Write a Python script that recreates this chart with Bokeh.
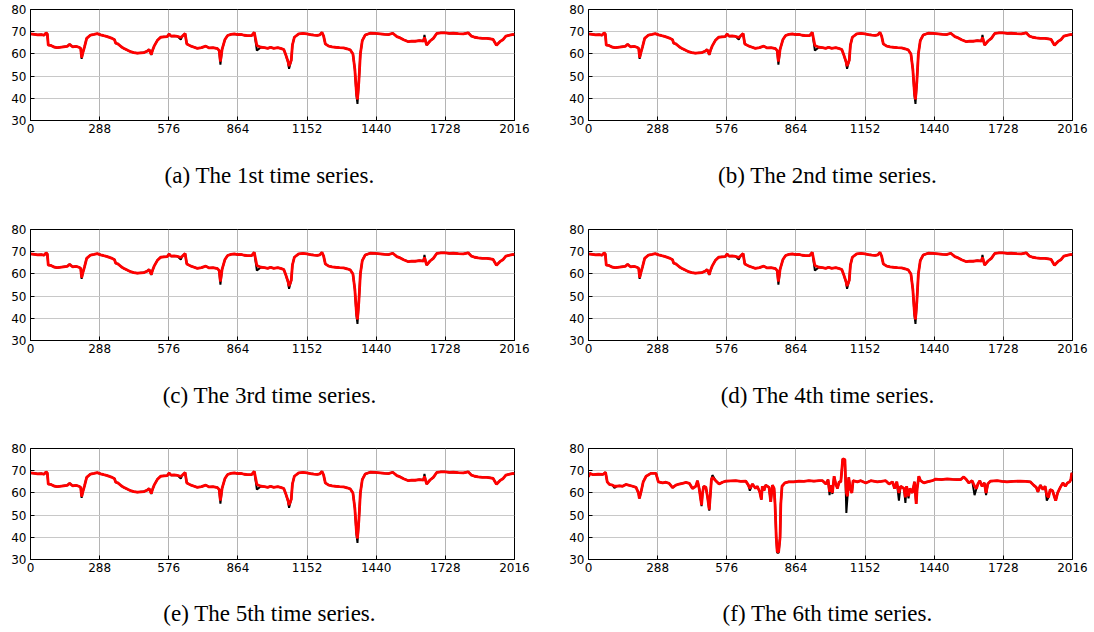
from bokeh.plotting import figure
from bokeh.layouts import column, row
from bokeh.models import Range1d, FixedTicker
from bokeh.embed import file_html
from bokeh.resources import INLINE

# ---------------- data ----------------
x_ticks = [0, 288, 576, 864, 1152, 1440, 1728, 2016]
y_ticks = [30, 40, 50, 60, 70, 80]

captions = [
    "(a)  The 1st time series.",
    "(b)  The 2nd time series.",
    "(c)  The 3rd time series.",
    "(d)  The 4th time series.",
    "(e)  The 5th time series.",
    "(f)  The 6th time series.",
]

# series 1-5 (visually the same traffic pattern)
x_ae = [0, 15, 30, 45, 56, 65, 70, 74, 85, 100, 111, 130, 153, 163, 175, 190, 202, 209, 213, 218,
        225, 234, 250, 265, 278, 292, 305, 320, 340, 350, 355, 364, 378, 390, 405, 417, 430, 445, 460, 473,
        487, 494, 500, 503, 508, 515, 528, 542, 556, 570, 577, 585, 598, 612, 626, 632, 644, 651, 668, 682,
        695, 712, 730, 744, 760, 779, 786, 791, 798, 810, 821, 835, 849, 862, 876, 890, 904, 921, 932, 943,
        960, 975, 988, 1000, 1013, 1030, 1045, 1055, 1062, 1072, 1077, 1086, 1091, 1099, 1117, 1135, 1152, 1166, 1180, 1195,
        1205, 1214, 1221, 1228, 1242, 1256, 1270, 1287, 1304, 1318, 1332, 1343, 1351, 1358, 1362, 1368, 1374, 1382, 1394, 1415,
        1435, 1457, 1475, 1491, 1509, 1526, 1540, 1554, 1574, 1588, 1602, 1620, 1637, 1641, 1646, 1650, 1664, 1678, 1692, 1710,
        1727, 1745, 1761, 1782, 1803, 1823, 1837, 1850, 1865, 1882, 1900, 1915, 1927, 1941, 1955, 1969, 1980, 1997, 2011, 2016]
true_ae = [69.0, 68.8, 68.6, 68.7, 68.4, 69.5, 69.0, 64.0, 63.8, 63.0, 62.8, 63.1, 63.4, 64.3, 63.2, 63.4, 63.0, 62.5, 57.8, 60.5,
           63.2, 67.0, 68.5, 68.8, 69.1, 68.6, 68.2, 67.8, 67.0, 66.4, 64.8, 64.5, 63.2, 62.4, 61.6, 61.0, 60.6, 60.3, 60.5, 60.6,
           61.3, 62.0, 60.5, 59.5, 61.5, 63.5, 66.0, 67.5, 67.7, 67.8, 69.0, 68.0, 68.1, 67.9, 66.5, 67.9, 69.2, 64.5, 63.5, 63.0,
           62.5, 62.8, 63.5, 62.7, 62.8, 62.4, 61.5, 55.2, 62.0, 66.5, 68.3, 68.8, 69.0, 68.7, 68.8, 68.4, 68.2, 68.2, 69.7, 61.5,
           63.0, 62.8, 62.5, 63.0, 62.5, 62.8, 62.4, 62.0, 60.0, 56.5, 53.3, 57.0, 64.0, 67.5, 69.0, 69.2, 69.0, 68.7, 68.5, 68.3,
           68.6, 69.7, 68.0, 64.5, 63.5, 63.2, 63.0, 62.8, 62.7, 62.3, 61.8, 60.0, 53.0, 41.0, 37.5, 48.0, 60.0, 66.0, 68.5, 69.3,
           69.2, 69.0, 68.8, 68.7, 69.3, 67.8, 67.2, 66.4, 65.5, 65.8, 65.7, 66.0, 65.8, 68.5, 65.5, 64.0, 65.8, 67.0, 69.2, 69.5,
           69.5, 69.2, 69.3, 69.1, 69.0, 69.5, 68.0, 67.5, 67.2, 67.0, 67.0, 66.8, 66.5, 63.9, 65.5, 66.5, 68.0, 68.5, 68.8, 68.5]
pred_ae = [69.0, 68.8, 68.6, 68.7, 68.4, 69.5, 69.0, 64.0, 63.8, 63.0, 62.8, 63.1, 63.4, 64.3, 63.2, 63.4, 63.0, 62.5, 58.3, 60.5,
           63.2, 67.0, 68.5, 68.8, 69.1, 68.6, 68.2, 67.8, 67.0, 66.4, 64.8, 64.5, 63.2, 62.4, 61.6, 61.0, 60.6, 60.3, 60.5, 60.6,
           61.3, 62.0, 60.5, 59.7, 61.5, 63.5, 66.0, 67.5, 67.7, 67.8, 69.0, 68.0, 68.1, 67.9, 67.4, 67.9, 69.2, 64.5, 63.5, 63.0,
           62.5, 62.8, 63.5, 62.7, 62.8, 62.4, 61.5, 56.5, 62.0, 66.5, 68.3, 68.8, 69.0, 68.7, 68.8, 68.4, 68.2, 68.2, 69.7, 63.8,
           63.0, 62.8, 62.5, 63.0, 62.5, 62.8, 62.4, 62.0, 60.0, 56.8, 54.5, 57.0, 64.0, 67.5, 69.0, 69.2, 69.0, 68.7, 68.5, 68.3,
           68.6, 69.7, 68.0, 64.5, 63.5, 63.2, 63.0, 62.8, 62.7, 62.3, 61.8, 60.0, 53.0, 42.0, 39.5, 48.0, 60.0, 66.0, 68.5, 69.3,
           69.2, 69.0, 68.8, 68.7, 69.3, 67.8, 67.2, 66.4, 65.5, 65.8, 65.7, 66.0, 65.8, 67.5, 65.5, 64.0, 65.8, 67.0, 69.2, 69.5,
           69.5, 69.2, 69.3, 69.1, 69.0, 69.5, 68.0, 67.5, 67.2, 67.0, 67.0, 66.8, 66.5, 63.9, 65.5, 66.5, 68.0, 68.5, 68.8, 68.5]

# series 6
x_f = [0, 5, 20, 40, 60, 71, 78, 87, 100, 108, 118, 129, 142, 156, 170, 184, 198, 208, 212, 220,
       228, 240, 260, 281, 291, 309, 322, 336, 350, 364, 378, 392, 406, 420, 433, 447, 454, 461, 467, 471,
       475, 480, 489, 496, 503, 508, 512, 516, 530, 544, 558, 572, 592, 613, 634, 655, 666, 672, 683, 696,
       703, 713, 720, 724, 731, 738, 752, 759, 766, 773, 777, 782, 786, 792, 798, 801, 806, 818, 834, 855,
       876, 897, 918, 939, 960, 975, 989, 998, 1004, 1009, 1016, 1023, 1030, 1037, 1044, 1051, 1055, 1059, 1068, 1070,
       1074, 1079, 1084, 1090, 1097, 1102, 1120, 1134, 1155, 1176, 1203, 1220, 1238, 1252, 1266, 1275, 1284, 1293, 1300, 1314,
       1320, 1325, 1333, 1339, 1349, 1358, 1365, 1369, 1376, 1383, 1397, 1411, 1432, 1446, 1470, 1494, 1515, 1536, 1550, 1563,
       1574, 1584, 1598, 1608, 1616, 1622, 1630, 1639, 1649, 1656, 1663, 1674, 1702, 1722, 1743, 1770, 1799, 1820, 1840, 1854,
       1865, 1872, 1882, 1893, 1902, 1909, 1916, 1923, 1933, 1940, 1946, 1954, 1965, 1976, 1986, 1995, 2004, 2009, 2013, 2016]
true_f = [67.2, 68.8, 68.2, 68.4, 68.3, 69.3, 65.0, 63.8, 63.5, 62.2, 63.0, 63.2, 63.0, 63.8, 63.4, 63.0, 62.5, 60.0, 57.5, 61.0,
          65.0, 67.5, 68.8, 68.8, 65.0, 64.5, 64.8, 64.3, 62.4, 63.5, 64.0, 64.3, 64.7, 64.3, 62.0, 63.0, 65.5, 62.0, 57.5, 54.0,
          60.0, 63.0, 62.5, 58.0, 52.0, 60.0, 66.0, 68.0, 65.5, 64.0, 64.8, 65.3, 65.4, 65.5, 65.2, 65.3, 63.5, 61.0, 64.0, 62.0,
          63.0, 60.5, 57.0, 63.0, 61.0, 63.5, 62.5, 56.0, 63.5, 62.0, 55.0, 40.0, 33.0, 33.0, 40.0, 55.0, 63.0, 64.5, 65.0, 65.0,
          65.3, 65.2, 65.5, 65.3, 65.5, 65.5, 64.0, 66.0, 59.0, 63.5, 59.5, 67.5, 64.0, 62.0, 65.0, 65.0, 70.0, 75.3, 75.0, 68.0,
          51.0, 58.5, 67.0, 62.0, 60.0, 65.5, 65.0, 65.5, 64.5, 65.5, 65.0, 65.2, 65.5, 64.0, 65.0, 62.0, 65.0, 56.5, 63.0, 62.0,
          55.5, 63.0, 57.5, 62.0, 60.0, 65.0, 55.0, 62.0, 67.5, 65.5, 64.5, 65.0, 65.5, 66.2, 66.0, 66.3, 66.1, 66.0, 66.0, 67.2,
          66.0, 64.5, 65.5, 59.0, 62.0, 64.0, 65.5, 63.0, 64.5, 59.0, 64.0, 65.3, 65.5, 65.2, 65.0, 65.2, 65.3, 65.2, 65.0, 63.5,
          62.5, 60.5, 63.5, 61.5, 63.0, 56.5, 58.0, 61.5, 61.0, 58.5, 56.5, 60.0, 62.5, 64.5, 63.0, 64.5, 65.0, 66.0, 69.0, 68.0]
pred_f = [67.2, 68.8, 68.2, 68.4, 68.3, 69.3, 65.0, 63.8, 63.5, 63.0, 63.0, 63.2, 63.0, 63.8, 63.4, 63.0, 62.5, 60.0, 57.5, 61.0,
          65.0, 67.5, 68.8, 68.8, 65.0, 64.5, 64.8, 64.3, 62.4, 63.5, 64.0, 64.3, 64.7, 64.3, 62.0, 63.0, 65.5, 62.0, 57.5, 54.5,
          60.0, 63.0, 62.5, 58.0, 52.5, 60.0, 66.0, 67.0, 65.5, 64.0, 64.8, 65.3, 65.4, 65.5, 65.2, 65.3, 63.5, 62.0, 64.0, 62.0,
          63.0, 60.5, 57.0, 63.0, 61.0, 63.5, 62.5, 56.0, 63.5, 62.0, 55.0, 40.0, 33.5, 33.5, 40.0, 55.0, 63.0, 64.5, 65.0, 65.0,
          65.3, 65.2, 65.5, 65.3, 65.5, 65.5, 64.0, 66.0, 60.5, 63.5, 60.0, 67.5, 64.0, 62.0, 65.0, 65.0, 70.0, 75.3, 75.0, 68.0,
          60.0, 58.5, 67.0, 62.0, 60.0, 65.5, 65.0, 65.5, 64.5, 65.5, 65.0, 65.2, 65.5, 64.0, 65.0, 62.0, 65.0, 60.0, 63.0, 62.0,
          58.0, 63.0, 58.5, 62.0, 60.0, 65.0, 55.0, 62.0, 67.5, 65.5, 64.5, 65.0, 65.5, 66.2, 66.0, 66.3, 66.1, 66.0, 66.0, 67.2,
          66.0, 64.5, 65.5, 63.0, 62.0, 64.0, 65.5, 63.0, 64.5, 60.0, 64.0, 65.3, 65.5, 65.2, 65.0, 65.2, 65.3, 65.2, 65.0, 63.5,
          62.5, 60.5, 63.5, 61.5, 63.0, 59.0, 58.0, 61.5, 61.0, 58.5, 56.5, 60.0, 62.5, 64.5, 63.0, 64.5, 65.0, 66.0, 69.0, 68.0]

assert len(x_ae) == len(true_ae) == len(pred_ae)
assert len(x_f) == len(true_f) == len(pred_f)

series = [
    (x_ae, true_ae, pred_ae),
    (x_ae, true_ae, pred_ae),
    (x_ae, true_ae, pred_ae),
    (x_ae, true_ae, pred_ae),
    (x_ae, true_ae, pred_ae),
    (x_f, true_f, pred_f),
]


def make(idx, top, bottom, left, right, standoff):
    xs, yt, yp = series[idx]
    p = figure(frame_width=484, frame_height=111,
               x_range=Range1d(0, 2016), y_range=Range1d(30, 80),
               output_backend="svg", toolbar_location=None,
               title=captions[idx], title_location="below",
               min_border_top=top, min_border_bottom=bottom,
               min_border_left=left, min_border_right=right,
               background_fill_color="white", border_fill_color="white")
    p.outline_line_color = "black"
    p.outline_line_width = 1
    p.title.text_font = "Liberation Serif"
    p.title.text_font_size = "23px"
    p.title.text_font_style = "normal"
    p.title.text_color = "black"
    p.title.align = "center"
    p.title.standoff = standoff
    for ax in (p.xaxis[0], p.yaxis[0]):
        ax.major_label_text_font = "DejaVu Sans"
        ax.major_label_text_font_size = "12px"
        ax.major_label_text_color = "black"
        ax.major_tick_in = 4
        ax.major_tick_out = 0
        ax.minor_tick_in = 0
        ax.minor_tick_out = 0
        ax.axis_line_color = "black"
        ax.major_tick_line_color = "black"
    p.xaxis[0].ticker = FixedTicker(ticks=x_ticks)
    p.yaxis[0].ticker = FixedTicker(ticks=y_ticks)
    p.xaxis[0].major_label_standoff = 3
    p.yaxis[0].major_label_standoff = 4
    p.xgrid.ticker = FixedTicker(ticks=x_ticks)
    p.ygrid.ticker = FixedTicker(ticks=y_ticks)
    p.xgrid.grid_line_color = "#b4b4b4"
    p.ygrid.grid_line_color = "#c8c8c8"
    p.xgrid.grid_line_width = 1
    p.ygrid.grid_line_width = 1
    p.line(xs, yt, line_color="black", line_width=2)
    p.line(xs, yp, line_color="#ff0000", line_width=2.8)
    return p


rows_spec = [(9, 102, 51), (7, 101, 51), (7, 64, 48)]
rows = []
for r, (top, bottom, so) in enumerate(rows_spec):
    a = make(2 * r, top, bottom, 30, 20, so)
    b = make(2 * r + 1, top, bottom, 54, 22, so)
    rows.append(row(a, b))

layout = column(*rows)
open("out.html", "w").write(file_html(layout, INLINE))
